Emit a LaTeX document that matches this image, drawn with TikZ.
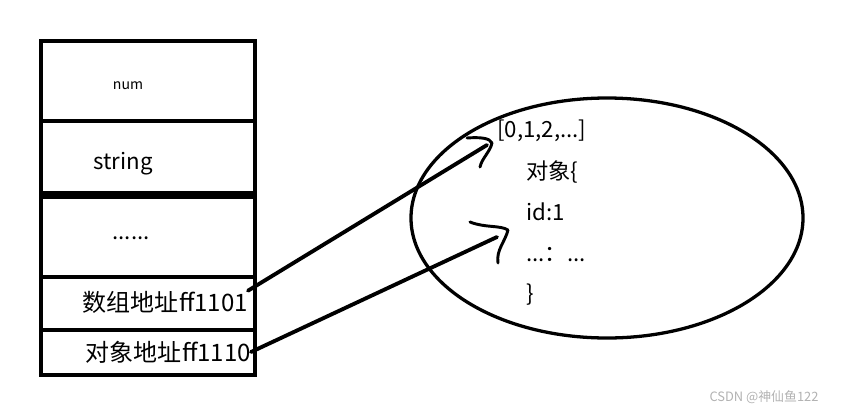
\documentclass[tikz,border=0pt]{standalone}
\usepackage{fontspec}
\setmainfont{Noto Sans CJK SC}
\usetikzlibrary{shapes.geometric}

\tikzset{
  cell/.style={line width=3.6pt},
  txt/.style={font=\fontsize{19}{22}\selectfont, inner sep=0pt},
  addr/.style={font=\fontsize{20.5}{24}\selectfont, inner sep=0pt, anchor=east},
  link/.style={line width=3.3pt, line cap=round},
  hook/.style={line width=2.5pt, line cap=round, line join=round},
}

\begin{document}
\begin{tikzpicture}[x=0.03cm, y=-0.03cm]
  \useasboundingbox (0,0) rectangle (843,413);

  % Stack boxes
  \draw[cell] (41,41) rectangle (255,375);
  \draw[cell] (41,121) -- (255,121);
  \draw[line width=6pt] (41,195) -- (255,195);
  \draw[cell] (41,277) -- (255,277);
  \draw[cell] (41,330) -- (255,330);
  \node[font=\fontsize{12}{14}\selectfont] (num) at (128,86) {num};
  \node[txt] (str) at (123,164) {string};
  \node[txt] (dots) at (131,238) {......};
  \node[addr] (arrAddr) at (248,302) {数组地址ff1101};
  \node[addr] (objAddr) at (251,352) {对象地址ff1110};

  % Heap
  \node[ellipse, draw, line width=2.8pt, minimum width=392*0.03cm, minimum height=240*0.03cm] (heap) at (607,218) {};
  \node[txt, anchor=west] (arr) at (497,131) {[0,1,2,...]};
  \node[txt, anchor=west] (obj) at (526,172) {对象\{};
  \node[txt, anchor=west] (id) at (526,212) {id:1};
  \node[txt, anchor=west] (more) at (526,255) {...：...};
  \node[txt, anchor=west] (close) at (526,295) {\}};

  % References
  \coordinate (arrTip) at (487,145);
  \coordinate (objTip) at (497,237);
  \draw[link] (arrAddr.north east) -- (arrTip);
  \draw[link] (objAddr.east) -- (objTip);
  \draw[hook] (467,138) .. controls (480,137) and (490,138) .. (492,143)
    .. controls (490,152) and (482,158) .. (480,167);
  \draw[hook] (470,222) .. controls (485,228) and (500,225) .. (508,230)
    .. controls (505,242) and (496,250) .. (498,263);

  % watermark
  \node[font=\fontsize{11}{13}\selectfont, text=black!30] (mark) at (764,397) {CSDN @神仙鱼122};
\end{tikzpicture}
\end{document}
